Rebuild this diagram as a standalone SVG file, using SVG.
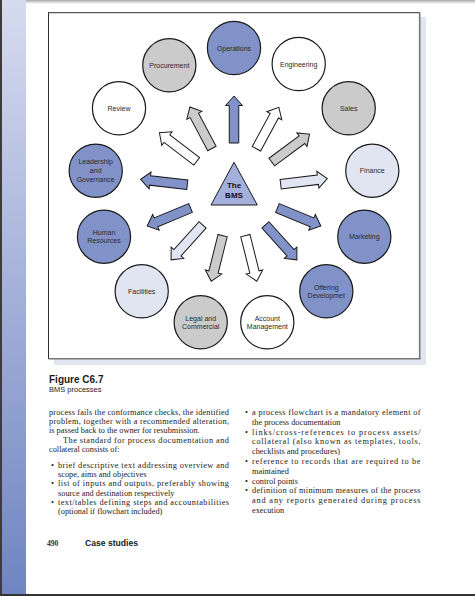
<svg xmlns="http://www.w3.org/2000/svg" xmlns:xlink="http://www.w3.org/1999/xlink" width="475" height="596" viewBox="0 0 475 596">
<style>
.lbl{font-family:"Liberation Sans",Arial,sans-serif;font-size:7px;fill:#2a2a2a;text-anchor:middle}
.circ{stroke:#1a1a1a;stroke-width:1.2}
.arr{stroke:#1a1a1a;stroke-width:1}
.blue{fill:#8192c8}
.gray{fill:#cbcbcb}
.white{fill:#ffffff}
.light{fill:#e1e5f2}
.body{font-family:"Liberation Serif","Times New Roman",serif;font-size:8.3px;fill:#222}
</style>
<defs>
<linearGradient id="strip" x1="0" y1="0" x2="0" y2="1">
<stop offset="0" stop-color="#d7dbef"/>
<stop offset="1" stop-color="#6f84c2"/>
</linearGradient>
<linearGradient id="topsh" x1="0" y1="0" x2="0" y2="1">
<stop offset="0" stop-color="#a8a8a8"/>
<stop offset="1" stop-color="#ffffff"/>
</linearGradient>
<path id="arrow" d="M-4.75,-47 V-84.5 H-8.5 L0,-94 L8.5,-84.5 H4.75 V-47 Z"/>
</defs>
<rect x="0" y="0" width="475" height="596" fill="#ffffff"/>
<rect x="0" y="0" width="475" height="4" fill="url(#topsh)"/>
<rect x="2" y="0" width="24" height="596" fill="url(#strip)"/>
<rect x="0" y="0" width="2" height="596" fill="#3c3c3c"/>
<rect x="0" y="594" width="475" height="2" fill="#333"/>

<g id="figure-frame">
<rect x="54" y="17" width="372" height="348" fill="#e1e4f1"/>
<rect x="48.5" y="12.7" width="371" height="345.8" fill="#ffffff" stroke="#2e2e2e" stroke-width="1"/>
<line x1="419.7" y1="13" x2="419.7" y2="359" stroke="#777" stroke-width="1.6"/>
<line x1="48.5" y1="358.7" x2="420.5" y2="358.7" stroke="#777" stroke-width="1.4"/>
</g>

<g id="connectors">
<use xlink:href="#arrow" class="arr blue" transform="translate(234,190) rotate(0)"/>
<use xlink:href="#arrow" class="arr white" transform="translate(234,190) rotate(28.5)"/>
<use xlink:href="#arrow" class="arr gray" transform="translate(234,190) rotate(53.5)"/>
<use xlink:href="#arrow" class="arr light" transform="translate(234,190) rotate(83)"/>
<use xlink:href="#arrow" class="arr blue" transform="translate(234,190) rotate(112.5)"/>
<use xlink:href="#arrow" class="arr blue" transform="translate(234,190) rotate(138)"/>
<use xlink:href="#arrow" class="arr white" transform="translate(234,190) rotate(166)"/>
<use xlink:href="#arrow" class="arr gray" transform="translate(234,190) rotate(-166)"/>
<use xlink:href="#arrow" class="arr light" transform="translate(234,190) rotate(-138)"/>
<use xlink:href="#arrow" class="arr blue" transform="translate(234,190) rotate(-112.5)"/>
<use xlink:href="#arrow" class="arr blue" transform="translate(234,190) rotate(-83.5)"/>
<use xlink:href="#arrow" class="arr white" transform="translate(234,190) rotate(-52.5)"/>
<use xlink:href="#arrow" class="arr gray" transform="translate(234,190) rotate(-28)"/>
</g>

<g id="bms">
<polygon points="234,162.3 211,205 257.3,205" fill="#a3b0dc" stroke="#1a1a1a" stroke-width="1"/>
<text x="234" y="188" font-family="Liberation Sans,Arial,sans-serif" font-size="8" font-weight="bold" fill="#111" text-anchor="middle">The</text>
<text x="234" y="198" font-family="Liberation Sans,Arial,sans-serif" font-size="8" font-weight="bold" fill="#111" text-anchor="middle">BMS</text>
</g>

<g id="operations"><circle cx="234" cy="48" r="26.6" class="circ blue"/><text x="234" y="50.6" class="lbl">Operations</text></g>
<g id="procurement"><circle cx="169.3" cy="65.3" r="26.6" class="circ gray"/><text x="169.3" y="67.8" class="lbl">Procurement</text></g>
<g id="engineering"><circle cx="298.7" cy="64" r="26.6" class="circ white"/><text x="298.7" y="66.5" class="lbl">Engineering</text></g>
<g id="review"><circle cx="119" cy="108.3" r="26.6" class="circ white"/><text x="119" y="110.8" class="lbl">Review</text></g>
<g id="sales"><circle cx="348.7" cy="108.3" r="26.6" class="circ gray"/><text x="348.7" y="110.8" class="lbl">Sales</text></g>
<g id="leadership"><circle cx="95.7" cy="170.7" r="26.6" class="circ blue"/><text x="95.7" y="164.2" class="lbl">Leadership</text><text x="95.7" y="173.2" class="lbl">and</text><text x="95.7" y="181.8" class="lbl">Governance</text></g>
<g id="finance"><circle cx="372.3" cy="170.7" r="26.6" class="circ light"/><text x="372.3" y="173.2" class="lbl">Finance</text></g>
<g id="human-resources"><circle cx="104" cy="236.7" r="26.6" class="circ blue"/><text x="104" y="234.8" class="lbl">Human</text><text x="104" y="242.8" class="lbl">Resources</text></g>
<g id="marketing"><circle cx="364.3" cy="236.7" r="26.6" class="circ blue"/><text x="364.3" y="239.2" class="lbl">Marketing</text></g>
<g id="facilities"><circle cx="141.7" cy="291.3" r="26.6" class="circ light"/><text x="141.7" y="293.8" class="lbl">Facilities</text></g>
<g id="offering"><circle cx="326.3" cy="291.3" r="26.6" class="circ blue"/><text x="326.3" y="290.2" class="lbl">Offering</text><text x="326.3" y="298.2" class="lbl">Developmet</text></g>
<g id="legal"><circle cx="200.7" cy="322.3" r="26.6" class="circ gray"/><text x="200.7" y="321.2" class="lbl">Legal and</text><text x="200.7" y="329.2" class="lbl">Commercial</text></g>
<g id="account"><circle cx="267.3" cy="322.3" r="26.6" class="circ white"/><text x="267.3" y="321.2" class="lbl">Account</text><text x="267.3" y="329.2" class="lbl">Management</text></g>

<g id="caption">
<text x="49" y="382.5" font-family="Liberation Sans,Arial,sans-serif" font-size="10" font-weight="bold" fill="#1a1a1a">Figure C6.7</text>
<text x="49" y="391.5" font-family="Liberation Sans,Arial,sans-serif" font-size="7.5" fill="#1a1a1a">BMS processes</text>
</g>

<g id="body-left" class="body">
<text x="49" y="415" textLength="180" lengthAdjust="spacing">process fails the conformance checks, the identified</text>
<text x="49" y="424.2" textLength="180" lengthAdjust="spacing">problem, together with a recommended alteration,</text>
<text x="49" y="433.4">is passed back to the owner for resubmission.</text>
<text x="63" y="442.6" textLength="166" lengthAdjust="spacing">The standard for process documentation and</text>
<text x="49" y="451.8">collateral consists of:</text>
<text x="51" y="468">•</text>
<text x="58" y="468" textLength="171" lengthAdjust="spacing">brief descriptive text addressing overview and</text>
<text x="58" y="477.2">scope, aims and objectives</text>
<text x="51" y="486.4">•</text>
<text x="58" y="486.4" textLength="171" lengthAdjust="spacing">list of inputs and outputs, preferably showing</text>
<text x="58" y="495.6">source and destination respectively</text>
<text x="51" y="504.8">•</text>
<text x="58" y="504.8" textLength="171" lengthAdjust="spacing">text/tables defining steps and accountabilities</text>
<text x="58" y="514">(optional if flowchart included)</text>
</g>

<g id="body-right" class="body">
<text x="245" y="415">•</text>
<text x="252" y="415" textLength="168.5" lengthAdjust="spacing">a process flowchart is a mandatory element of</text>
<text x="252" y="424.8">the process documentation</text>
<text x="245" y="434.6">•</text>
<text x="252" y="434.6" textLength="168.5" lengthAdjust="spacing">links/cross-references to process assets/</text>
<text x="252" y="444.4" textLength="168.5" lengthAdjust="spacing">collateral (also known as templates, tools,</text>
<text x="252" y="454.2">checklists and procedures)</text>
<text x="245" y="464">•</text>
<text x="252" y="464" textLength="168.5" lengthAdjust="spacing">reference to records that are required to be</text>
<text x="252" y="473.8">maintained</text>
<text x="245" y="483.6">•</text>
<text x="252" y="483.6">control points</text>
<text x="245" y="493.4">•</text>
<text x="252" y="493.4" textLength="168.5" lengthAdjust="spacing">definition of minimum measures of the process</text>
<text x="252" y="503.2" textLength="168.5" lengthAdjust="spacing">and any reports generated during process</text>
<text x="252" y="513">execution</text>
</g>

<g id="footer">
<text x="47" y="546" font-family="Liberation Serif,Times New Roman,serif" font-size="7.6" font-weight="bold" fill="#333">490</text>
<text x="85" y="546" font-family="Liberation Sans,Arial,sans-serif" font-size="8.6" font-weight="bold" fill="#1a1a1a">Case studies</text>
</g>
</svg>
